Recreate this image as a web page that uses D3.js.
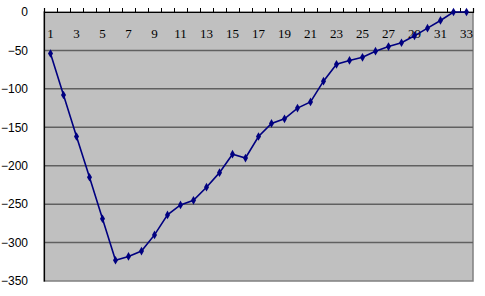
<!DOCTYPE html>
<html>
<head>
<meta charset="utf-8">
<title>line</title>
<script src="https://cdn.jsdelivr.net/npm/d3@7/dist/d3.min.js"></script>
<style>
  body { margin: 0; background: #fff; }
  .ylab { font-family: "Liberation Sans", Arial, sans-serif; font-size: 12px; fill: #000; }
  .xlab { font-family: "Liberation Serif", "DejaVu Serif", serif; font-size: 13px; fill: #000; }
</style>
</head>
<body>
<script>
var categories = d3.range(1, 34);
var values = [-54, -108, -162, -215, -269, -323, -318, -311, -290, -264,
              -251, -245, -228, -209, -185, -190, -162, -145, -139, -125,
              -117, -90, -68, -63, -59, -51, -45, -40, -31, -21,
              -11, 0, 0];
var yTicks = [0, -50, -100, -150, -200, -250, -300, -350];

var width = 485, height = 296,
    plotL = 44, plotT = 12, plotR = 473, plotB = 281;

var svg = d3.select("body").append("svg")
  .attr("width", width).attr("height", height);

var x = d3.scaleBand().domain(categories).range([plotL, plotR]);
var y = d3.scaleLinear().domain([0, -350]).range([plotT, plotB]);

// plot area
svg.append("rect")
  .attr("x", plotL).attr("y", plotT)
  .attr("width", plotR - plotL).attr("height", plotB - plotT)
  .attr("fill", "#c0c0c0")
  .attr("stroke", "#808080").attr("stroke-width", 1.5);

// gridlines
svg.append("g").selectAll("line")
  .data(yTicks.filter(function(d) { return d != 0 && d != -350; }))
  .enter().append("line")
  .attr("x1", plotL).attr("x2", plotR)
  .attr("y1", function(d) { return y(d); })
  .attr("y2", function(d) { return y(d); })
  .attr("stroke", "#606060").attr("stroke-width", 1.5);

// left axis
var yAxis = d3.axisLeft(y).tickValues(yTicks).tickSize(0).tickPadding(16);
var gy = svg.append("g").attr("transform", "translate(" + plotL + ",0)").call(yAxis);
gy.select(".domain").attr("stroke", "#000").attr("stroke-width", 1.2);
gy.selectAll("text").attr("class", "ylab").attr("fill", null);
gy.attr("font-size", null).attr("font-family", null);

// top axis (category axis sits at y=0)
var xTickScale = d3.scaleLinear().domain([0, 33]).range([plotL, plotR]);
var xAxis = d3.axisTop(xTickScale).tickValues(d3.range(0, 34)).tickSize(4).tickFormat("");
var gx = svg.append("g").attr("transform", "translate(0," + y(0) + ")").call(xAxis);
gx.select(".domain").attr("stroke", "#000").attr("stroke-width", 1.2);
gx.selectAll(".tick line").attr("stroke", "#000");

svg.append("g").selectAll("text")
  .data(categories.filter(function(d) { return d % 2 == 1; }))
  .enter().append("text")
  .attr("class", "xlab")
  .attr("x", function(d) { return x(d) + x.bandwidth() / 2; })
  .attr("y", 38)
  .attr("text-anchor", "middle")
  .text(function(d) { return d; });

// series
var line = d3.line()
  .x(function(d, i) { return x(categories[i]) + x.bandwidth() / 2; })
  .y(function(d) { return y(d); });

svg.append("path")
  .datum(values)
  .attr("d", line)
  .attr("fill", "none")
  .attr("stroke", "#000080")
  .attr("stroke-width", 1.6);

svg.append("g").selectAll("path")
  .data(values)
  .enter().append("path")
  .attr("transform", function(d, i) {
    return "translate(" + (x(categories[i]) + x.bandwidth() / 2) + "," + y(d) + ")";
  })
  .attr("d", d3.symbol().type(d3.symbolDiamond).size(22))
  .attr("fill", "#000080");
</script>
</body>
</html>
